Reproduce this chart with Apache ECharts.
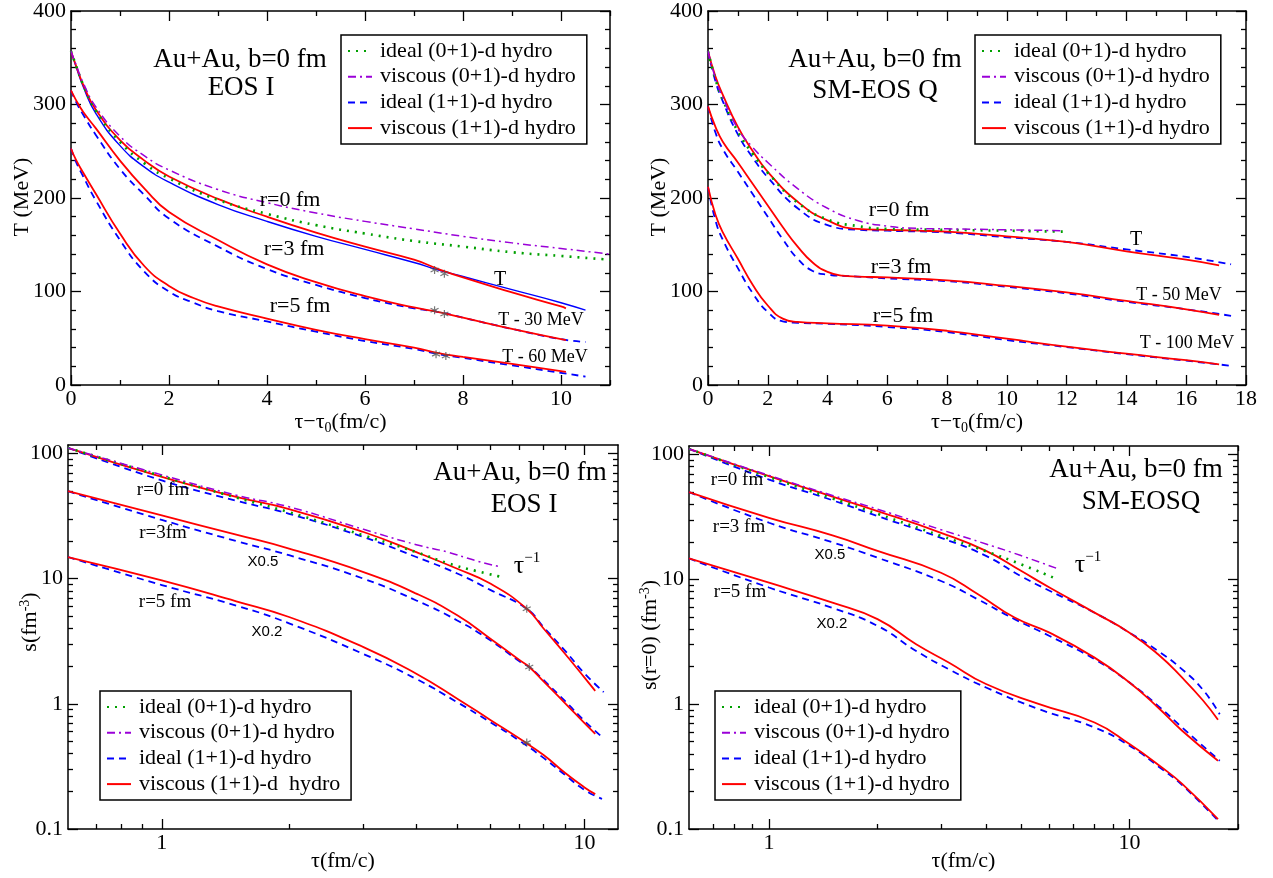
<!DOCTYPE html>
<html><head><meta charset="utf-8">
<script src="https://cdn.jsdelivr.net/npm/echarts@6/dist/echarts.min.js"></script>
<style>html,body{margin:0;padding:0;background:#fff}#c{width:1273px;height:878px}</style>
</head><body><div id="c"></div>
<script>
// ---------- DATA ----------
// Panel 1: EOS I, T vs tau-tau0
const p1_r0_ideal01 = [[0,357],[0.1,342],[0.25,321],[0.5,294],[1,260],[1.5,237],[2,221],[3,198],[4,183],[5,171],[6,162],[7,154],[8,148],[9,142],[10,138],[11,134]];
const p1_r0_visc01  = [[0,357],[0.1,343],[0.25,323],[0.5,298],[1,266],[1.5,245],[2,230],[3,209],[4,195],[5,184],[6,175],[7,167],[8,159],[9,152],[10,146],[11,140]];
const p1_r0_ideal11 = [[0,357],[0.1,341],[0.25,319],[0.5,291],[1,256],[1.5,233],[2,217],[3,193],[4,175],[5,159],[6,145],[7,131],[7.5,123],[8,116],[9,102],[10,88],[10.5,80]];
const p1_r0_visc11  = [[0,357],[0.1,342],[0.25,321],[0.5,295],[1,262],[1.5,240],[2,223],[3,199],[4,180],[5,163],[6,148],[7,134],[7.5,124],[8,115],[9,99],[10,84],[10.1,82]];
const p1_r3_ideal11 = [[0,315],[0.1,303],[0.25,289],[0.5,268],[1,231],[1.5,203],[2,178],[3,148],[4,124],[5,107],[6,93],[7,82],[7.5,78],[8,72],[9,60],[10,49],[10.5,46]];
const p1_r3_visc11  = [[0,315],[0.1,305],[0.25,292],[0.5,275],[1,240],[1.5,210],[2,185],[3,155],[4,129],[5,110],[6,95],[7,83],[7.5,78],[8,72],[9,60],[10.1,48]];
const p1_r5_ideal11 = [[0,253],[0.1,239],[0.25,223],[0.5,198],[1,155],[1.5,121],[2,100],[2.5,88],[3,79],[4,68],[5,57],[6,47],[7,38.5],[7.5,33],[8,29],[9,21],[10,13],[10.5,9]];
const p1_r5_visc11  = [[0,253],[0.1,241],[0.25,227],[0.5,205],[1,162],[1.5,127],[2,106],[2.5,93],[3,84],[4,71],[5,59],[6,49],[7,40],[7.5,34],[8,30],[9,22.5],[10.1,14]];
const p1_stars = [[7.42,123],[7.62,119],[7.42,80],[7.62,76],[7.45,33],[7.65,31]];

// Panel 2: SM-EOS Q, T vs tau-tau0
const p2_r0_ideal01 = [[0,357],[0.25,327],[0.5,305],[1,271],[1.5,247],[2,227],[3,195],[4,177],[5,170],[6,167],[8,166],[10,165],[11.9,164]];
const p2_r0_visc01  = [[0,357],[0.25,328],[0.5,307],[1,274],[1.5,254],[2,238],[3,210],[4,189],[5,176],[6,170],[7,167.5],[8,167],[10,166],[11.9,165]];
const p2_r0_ideal11 = [[0,357],[0.25,325],[0.5,303],[1,268],[1.5,243],[2,222],[3,189],[4,171],[5,166],[6,165],[8,163],[10,158],[12,153],[14,145],[16,137],[17.5,129]];
const p2_r0_visc11  = [[0,357],[0.25,330],[0.5,310],[1,276],[1.5,250],[2,228],[3,196],[4,176],[5,167],[6,166],[7,165],[8,164],[10,159],[12,153],[14,143],[16,134],[17.1,128]];
const p2_r3_ideal11 = [[0,298],[0.25,270],[0.5,252],[1,228],[1.5,204],[2,180],[2.5,156],[3,135],[3.5,122],[4,118],[5,116],[6,114],[8,111],[10,105],[12,98],[14,89],[16,81],[17.5,74]];
const p2_r3_visc11  = [[0,298],[0.25,276],[0.5,260],[1,238],[1.5,215],[2,192],[2.5,169],[3,148],[3.5,131],[4,121],[4.5,117],[5,116],[6,115],[8,112],[10,106],[12,99],[14,90],[16,81],[17.1,75]];
const p2_r5_ideal11 = [[0,212],[0.25,176],[0.5,155],[1,125],[1.5,98],[2,78],[2.5,68],[3,66.5],[4,65.5],[6,62],[8,56.5],[10,48],[12,40.5],[14,33],[16,26],[17.5,20.5]];
const p2_r5_visc11  = [[0,212],[0.25,182],[0.5,163],[1,135],[1.5,107],[2,85],[2.5,71],[3,67.5],[4,66],[6,63.5],[8,58],[10,49.5],[12,41],[14,33.5],[16,26.5],[17.1,22]];

// Panel 3: EOS I, s vs tau (log-log)
const p3_r0_ideal01 = [[0.6,111],[1,66],[1.5,44.5],[2,34],[3,22.2],[4,16.3],[4.75,13.3],[5.5,11.6],[6.4,10.3]];
const p3_r0_visc01  = [[0.6,111],[1,67.5],[1.5,46.5],[2,37.5],[3,24.8],[4,18.7],[4.75,16.3],[5.5,14],[6.34,12.4]];
const p3_r0_ideal11 = [[0.6,111],[1,61],[1.5,42],[2,33],[3,21.5],[4,14.9],[5,11],[6,8.1],[7.3,5.75],[8,4.1],[9,2.65],[10,1.75],[11.1,1.24]];
const p3_r0_visc11  = [[0.6,111],[1,65],[1.5,45],[2,36],[3,23.6],[4,16.3],[5,12],[6,9.1],[7.3,5.75],[8,4.0],[9,2.5],[10,1.62],[10.6,1.27]];
const p3_r3_ideal11 = [[0.6,50],[1,29.5],[1.5,20],[2,15.4],[3,10],[4,6.7],[5,4.64],[6,3.2],[7,2.2],[7.4,1.97],[8,1.55],[9,1.05],[10,0.73],[11.1,0.53]];
const p3_r3_visc11  = [[0.6,50],[1,32],[1.5,22.5],[2,17.4],[3,11.3],[4,7.6],[5,5.1],[6,3.3],[7,2.25],[7.4,1.97],[8,1.51],[9,1.01],[10,0.7],[10.6,0.575]];
const p3_r5_ideal11 = [[0.6,14.9],[1,8.9],[1.5,6.1],[2,4.4],[3,2.5],[4,1.58],[5,1.03],[6,0.71],[7,0.51],[8,0.37],[9,0.27],[10,0.205],[11,0.174]];
const p3_r5_visc11  = [[0.6,14.9],[1,9.7],[1.5,6.6],[2,4.94],[3,2.84],[4,1.74],[5,1.1],[6,0.74],[7,0.53],[8,0.39],[9,0.28],[10,0.215],[10.6,0.19]];
const p3_stars = [[7.3,5.75],[7.4,1.97],[7.3,0.49]];

// Panel 4: SM-EOS Q, s vs tau (log-log)
const p4_r0_ideal01 = [[0.6,111],[1,66],[1.5,44.5],[2,33.5],[3,22.3],[4,16.8],[5,13.2],[6.16,10.3]];
const p4_r0_visc01  = [[0.6,111],[1,68],[1.5,47],[2,36.5],[3,25],[4,19.2],[5,15.5],[6.4,12]];
const p4_r0_ideal11 = [[0.6,111],[1,63],[1.5,43],[2,32.1],[3,21.5],[4,15.4],[5,10.6],[6,8.1],[8,5.4],[10,3.74],[12,2.67],[14,1.9],[16,1.3],[17.8,0.83]];
const p4_r0_visc11  = [[0.6,111],[1,67],[1.5,46],[2,35.2],[3,23.6],[4,16.9],[5,11.7],[6,8.6],[8,5.41],[10,3.74],[12,2.51],[14,1.63],[16,1.07],[17.6,0.75]];
const p4_r3_ideal11 = [[0.6,50],[1,28.4],[1.5,19.8],[2,14.9],[3,9.7],[3.8,6.9],[4.8,4.8],[6,3.52],[8,2.29],[10,1.49],[12,0.97],[14,0.65],[17.8,0.352]];
const p4_r3_visc11  = [[0.6,50],[1,31.1],[1.5,22.5],[2,16.9],[3,11.3],[3.8,7.6],[4.8,4.94],[6,3.74],[8,2.36],[10,1.49],[12,0.94],[14,0.612],[17.6,0.352]];
const p4_r5_ideal11 = [[0.6,14.7],[1,8.6],[1.5,5.9],[2,4.24],[2.56,2.67],[3.16,1.9],[4,1.36],[5.62,0.91],[8,0.65],[10,0.465],[12.3,0.302],[14,0.225],[17.8,0.113]];
const p4_r5_visc11  = [[0.6,14.7],[1,9.4],[1.5,6.5],[2,4.8],[2.56,3.02],[3.16,2.15],[4,1.45],[5.62,1.0],[8,0.713],[10,0.479],[12.3,0.311],[14,0.23],[17.6,0.12]];

// Tick values
const p1_xMajor = [0,2,4,6,8,10];
const p1_xMinor = [1,3,5,7,9,11];
const p2_xMajor = [0,2,4,6,8,10,12,14,16,18];
const p2_xMinor = [1,3,5,7,9,11,13,15,17];
const lin_yMajor = [0,100,200,300,400];
const lin_yMinor = [20,40,60,80,120,140,160,180,220,240,260,280,320,340,360,380];
const log_xMajor = [1,10];
const log_xMinor = [0.7,0.8,0.9,2,3,4,5,6,7,8,9,20];
const log_yMajor = [0.1,1,10,100];
const log_yMinor = [0.2,0.3,0.4,0.5,0.6,0.7,0.8,0.9,2,3,4,5,6,7,8,9,20,30,40,50,60,70,80,90];

// Legend names
const N01i = 'ideal (0+1)-d hydro';
const N01v = 'viscous (0+1)-d hydro';
const N11i = 'ideal (1+1)-d hydro';
const N11v = 'viscous (1+1)-d hydro';
const N11v3 = 'viscous (1+1)-d  hydro';

// ---------- BUILD ----------
const SERIF = "Liberation Serif";
const SANS = "Liberation Sans";
const xAxis = [], yAxis = [];

function axisBase(type, gi, pos, min, max) {
  const a = {type: type, gridIndex: gi, position: pos, min: min, max: max,
    axisLine: {show: true, onZero: false, lineStyle: {color: '#000', width: 1.5}},
    splitLine: {show: false}, minorTick: {show: false}, minorSplitLine: {show: false},
    silent: true};
  if (type === 'log') a.logBase = 10;
  return a;
}
function fmt(v) { return String(+(+v).toPrecision(6)); }
function addMajor(arr, type, gi, pos, min, max, ticks, label, margin, name, nameGap, rich) {
  const a = axisBase(type, gi, pos, min, max);
  a.axisTick = {show: true, inside: true, length: 10, customValues: ticks, lineStyle: {color: '#000', width: 1.3}};
  a.axisLabel = label ? {show: true, customValues: ticks, margin: margin, color: '#000', fontFamily: SERIF, fontSize: 22, formatter: fmt}
                      : {show: false};
  if (name) {
    a.name = name; a.nameLocation = 'middle'; a.nameGap = nameGap; a.nameMoveOverlap = false;
    a.nameTextStyle = {color: '#000', fontFamily: SERIF, fontSize: 22, rich: rich || {}};
  }
  arr.push(a); return arr.length - 1;
}
function addMinor(arr, type, gi, pos, min, max, ticks) {
  const a = axisBase(type, gi, pos, min, max);
  a.axisLine = {show: false, onZero: false};
  a.axisTick = {show: true, inside: true, length: 5, customValues: ticks, lineStyle: {color: '#000', width: 1.3}};
  a.axisLabel = {show: false};
  arr.push(a); return arr.length - 1;
}

const richSub = {
  t: {fontFamily: SERIF, fontSize: 22, color: '#000', lineHeight: 26},
  s: {fontFamily: SERIF, fontSize: 14, color: '#000', lineHeight: 14, verticalAlign: 'bottom'},
  p: {fontFamily: SERIF, fontSize: 14, color: '#000', lineHeight: 14, verticalAlign: 'top'}
};

const grids = [
  {left: 71, top: 9, width: 539, height: 376},
  {left: 708, top: 9, width: 538, height: 376},
  {left: 68, top: 445, width: 550, height: 384},
  {left: 689, top: 446, width: 549, height: 383}
];

function panelAxes(gi, type, xmin, xmax, xMaj, xMin, ymin, ymax, yMaj, yMin, xName, xGap) {
  const xi = addMajor(xAxis, type, gi, 'bottom', xmin, xmax, xMaj, true, 3, xName, xGap, richSub);
  addMinor(xAxis, type, gi, 'bottom', xmin, xmax, xMin);
  addMajor(xAxis, type, gi, 'top', xmin, xmax, xMaj, false);
  addMinor(xAxis, type, gi, 'top', xmin, xmax, xMin);
  const yi = addMajor(yAxis, type, gi, 'left', ymin, ymax, yMaj, true, 5);
  addMinor(yAxis, type, gi, 'left', ymin, ymax, yMin);
  addMajor(yAxis, type, gi, 'right', ymin, ymax, yMaj, false);
  addMinor(yAxis, type, gi, 'right', ymin, ymax, yMin);
  return [xi, yi];
}

const A1 = panelAxes(0, 'value', 0, 11, p1_xMajor, p1_xMinor, 0, 400, lin_yMajor, lin_yMinor, '{t|τ−τ}{s|0}{t|(fm/c)}', 24);
const A2 = panelAxes(1, 'value', 0, 18, p2_xMajor, p2_xMinor, 0, 400, lin_yMajor, lin_yMinor, '{t|τ−τ}{s|0}{t|(fm/c)}', 24);
const A3 = panelAxes(2, 'log', 0.6, 12, log_xMajor, log_xMinor, 0.1, 117, log_yMajor, log_yMinor, 'τ(fm/c)', 21);
const A4 = panelAxes(3, 'log', 0.6, 20, log_xMajor, log_xMinor, 0.1, 117, log_yMajor, log_yMinor, 'τ(fm/c)', 21);

const ST = {
  i01: {color: '#00a000', width: 2.6, type: [2, 6]},
  v01: {color: '#9a00d8', width: 1.5, type: [8, 4, 2, 4]},
  i11: {color: '#0000ff', width: 1.8, type: [7, 5]},
  i11s: {color: '#0000ff', width: 1.4, type: 'solid'},
  v11: {color: '#ff0000', width: 1.8, type: 'solid'}
};
const series = [];
function L(name, data, ax, st, z) {
  series.push({type: 'line', name: name, data: data, xAxisIndex: ax[0], yAxisIndex: ax[1],
    symbol: 'none', showSymbol: false, smooth: 0.5, silent: true,
    animation: false, color: st.color, lineStyle: Object.assign({}, st), z: z || 2});
}
function S(data, ax) {
  series.push({type: 'scatter', name: 'marker', data: data, xAxisIndex: ax[0], yAxisIndex: ax[1],
    symbol: 'path://M0,-5L0,5M-4.33,-2.5L4.33,2.5M-4.33,2.5L4.33,-2.5', symbolSize: 8, silent: true,
    animation: false, itemStyle: {color: 'none', borderColor: '#555', borderWidth: 1.2}, z: 5});
}
// Panel 1
L(N11i, p1_r3_ideal11, A1, ST.i11); L(N11i, p1_r5_ideal11, A1, ST.i11); L(N11i, p1_r0_ideal11, A1, ST.i11s);
L(N01i, p1_r0_ideal01, A1, ST.i01, 3); L(N01v, p1_r0_visc01, A1, ST.v01, 3);
L(N11v, p1_r0_visc11, A1, ST.v11); L(N11v, p1_r3_visc11, A1, ST.v11); L(N11v, p1_r5_visc11, A1, ST.v11);
S(p1_stars, A1);
// Panel 2
L(N11i, p2_r0_ideal11, A2, ST.i11); L(N11i, p2_r3_ideal11, A2, ST.i11); L(N11i, p2_r5_ideal11, A2, ST.i11);
L(N11v, p2_r0_visc11, A2, ST.v11); L(N11v, p2_r3_visc11, A2, ST.v11); L(N11v, p2_r5_visc11, A2, ST.v11);
L(N01i, p2_r0_ideal01, A2, ST.i01, 3); L(N01v, p2_r0_visc01, A2, ST.v01, 3);
// Panel 3
L(N11i, p3_r0_ideal11, A3, ST.i11); L(N11i, p3_r3_ideal11, A3, ST.i11); L(N11i, p3_r5_ideal11, A3, ST.i11);
L(N01i, p3_r0_ideal01, A3, ST.i01, 3); L(N01v, p3_r0_visc01, A3, ST.v01, 3);
L(N11v3, p3_r0_visc11, A3, ST.v11); L(N11v3, p3_r3_visc11, A3, ST.v11); L(N11v3, p3_r5_visc11, A3, ST.v11);
S(p3_stars, A3);
// Panel 4
L(N11i, p4_r0_ideal11, A4, ST.i11); L(N11i, p4_r3_ideal11, A4, ST.i11); L(N11i, p4_r5_ideal11, A4, ST.i11);
L(N11v, p4_r0_visc11, A4, ST.v11); L(N11v, p4_r3_visc11, A4, ST.v11); L(N11v, p4_r5_visc11, A4, ST.v11);
L(N01i, p4_r0_ideal01, A4, ST.i01, 3); L(N01v, p4_r0_visc01, A4, ST.v01, 3);

// Legends: icons and box by the legend component (its own text made transparent),
// visible labels as serif text drawn at the same rows
const LEG_PAD_T = 5, LEG_ROW = 22, LEG_GAP = 3.7;
function legendAt(left, top, names) {
  return {left: left, top: top, orient: 'vertical', data: names, selectedMode: false,
    borderColor: '#000', borderWidth: 1.5, padding: [LEG_PAD_T, 23, LEG_PAD_T, 6], backgroundColor: '#fff',
    itemWidth: 24, itemHeight: 14, itemGap: LEG_GAP,
    itemStyle: {opacity: 0, borderWidth: 0},
    textStyle: {fontSize: 21, lineHeight: LEG_ROW, color: 'rgba(0,0,0,0)'}};
}
const legendSpecs = [
  [341, 35, [N01i, N01v, N11i, N11v]],
  [975, 35, [N01i, N01v, N11i, N11v]],
  [100, 691, [N01i, N01v, N11i, N11v3]],
  [715, 691, [N01i, N01v, N11i, N11v]]
];
const legends = legendSpecs.map(s => legendAt(s[0], s[1], s[2]));

function T(x, y, text, size, fam, align) {
  return {type: 'text', x: x, y: y, silent: true, z: 10,
    style: {text: text, fill: '#000', fontFamily: fam || SERIF, fontSize: size, align: align || 'center', verticalAlign: 'middle'}};
}
function TAU(x, y) {
  return {type: 'text', x: x, y: y, silent: true, z: 10,
    style: {text: '{t|τ}{p|−1}', align: 'center', verticalAlign: 'middle',
      rich: {t: {fontFamily: SERIF, fontSize: 26, fill: '#000', color: '#000', lineHeight: 30},
             p: {fontFamily: SERIF, fontSize: 15, fill: '#000', color: '#000', lineHeight: 15, verticalAlign: 'top'}}}};
}
function YT(x, y, text) {
  return {type: 'text', x: x, y: y, rotation: Math.PI / 2, silent: true, z: 10,
    style: {text: text, align: 'center', verticalAlign: 'middle',
      rich: {t: {fontFamily: SERIF, fontSize: 22, fill: '#000', color: '#000', lineHeight: 24},
             p: {fontFamily: SERIF, fontSize: 14, fill: '#000', color: '#000', lineHeight: 14, verticalAlign: 'top'}}}};
}
const graphic = [
  T(240, 60, 'Au+Au, b=0 fm', 27), T(241, 88, 'EOS I', 27),
  T(290, 200, 'r=0 fm', 22), T(294, 249, 'r=3 fm', 22), T(300, 306, 'r=5 fm', 22),
  T(500, 280, 'T', 20), T(541, 320, 'T - 30 MeV', 18), T(545, 357, 'T - 60 MeV', 18),

  T(875, 60, 'Au+Au, b=0 fm', 27), T(875, 91, 'SM-EOS Q', 27),
  T(899, 210, 'r=0 fm', 22), T(901, 267, 'r=3 fm', 22), T(903, 316, 'r=5 fm', 22),
  T(1136, 240, 'T', 20), T(1179, 295, 'T - 50 MeV', 18), T(1187, 343, 'T - 100 MeV', 18),

  T(520, 473, 'Au+Au, b=0 fm', 27), T(524, 505, 'EOS I', 27),
  T(163, 490, 'r=0 fm', 19), T(163, 533, 'r=3fm', 19), T(263, 562, 'X0.5', 15, SANS),
  T(165, 602, 'r=5 fm', 19), T(267, 632, 'X0.2', 15, SANS), TAU(527, 566),

  T(1136, 470, 'Au+Au, b=0 fm', 27), T(1141, 502, 'SM-EOSQ', 27),
  T(737, 480, 'r=0 fm', 19), T(739, 527, 'r=3 fm', 19), T(830, 555, 'X0.5', 15, SANS),
  T(740, 592, 'r=5 fm', 19), T(832, 624, 'X0.2', 15, SANS), TAU(1088, 565),

  YT(22, 197, '{t|T (MeV)}'), YT(659, 197, '{t|T (MeV)}'),
  YT(30, 622, '{t|s(fm}{p|-3}{t|)}'), YT(650, 635, '{t|s(r=0) (fm}{p|-3}{t|)}')
];
legendSpecs.forEach(function (s) {
  s[2].forEach(function (name, k) {
    const g = T(s[0] + 39, s[1] + LEG_PAD_T + LEG_ROW / 2 + k * (LEG_ROW + LEG_GAP), name, 22, SERIF, 'left');
    g.z = 20;
    graphic.push(g);
  });
});

const chart = echarts.init(document.getElementById('c'), null, {renderer: 'canvas', width: 1273, height: 878});
chart.setOption({
  backgroundColor: '#fff', animation: false,
  textStyle: {fontFamily: SERIF, color: '#000'},
  grid: grids, xAxis: xAxis, yAxis: yAxis, series: series, legend: legends, graphic: graphic
});
</script>
</body></html>
